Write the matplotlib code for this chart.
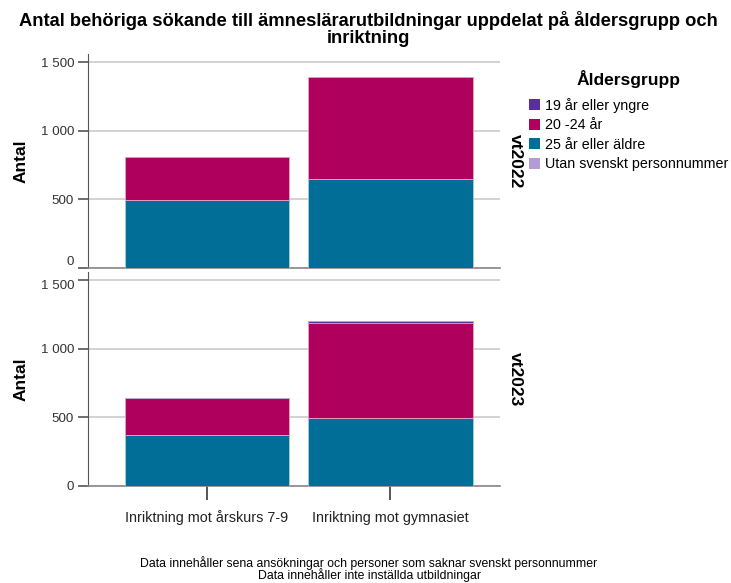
import matplotlib
matplotlib.use("Agg")
import matplotlib.pyplot as plt
from matplotlib.patches import Patch
import numpy as np

plt.rcParams['font.family'] = ['Liberation Sans', 'DejaVu Sans']

# Data
categories = ['Inriktning mot årskurs 7-9', 'Inriktning mot gymnasiet']
terms = ['vt2022', 'vt2023']
age_groups = ['19 år eller yngre', '20 -24 år', '25 år eller äldre', 'Utan svenskt personnummer']

# values per term, per age group, per category
vt2022 = {
    '19 år eller yngre': [0, 0],
    '20 -24 år': [315, 743],
    '25 år eller äldre': [495, 646],
    'Utan svenskt personnummer': [0, 0],
}
vt2023 = {
    '19 år eller yngre': [0, 11],
    '20 -24 år': [268, 690],
    '25 år eller äldre': [370, 496],
    'Utan svenskt personnummer': [0, 3],
}
term_data = [vt2022, vt2023]

yticks = [0, 500, 1000, 1500]
ytick_labels = ['0', '500', '1 000', '1 500']

colors = {
    '19 år eller yngre': '#5b2d9f',
    '20 -24 år': '#b0005e',
    '25 år eller äldre': '#006e97',
    'Utan svenskt personnummer': '#b59bd6',
}
edge_colors = {
    '19 år eller yngre': '#b9a6da',
    '20 -24 år': '#e6a6c8',
    '25 år eller äldre': '#a6cfe0',
    'Utan svenskt personnummer': '#e0d4ef',
}
# stacking order from the bottom up
stack_order = ['Utan svenskt personnummer', '25 år eller äldre', '20 -24 år', '19 år eller yngre']

W, H = 731, 583
fig = plt.figure(figsize=(W / 100, H / 100), dpi=100)


def px_axes(left, top, right, bottom):
    return fig.add_axes([left / W, 1 - bottom / H, (right - left) / W, (bottom - top) / H])


panels = [px_axes(88, 54, 500, 268), px_axes(88, 272, 500, 486)]
x = np.arange(len(categories))
axis_col = '#555555'

for i, (ax, term, data) in enumerate(zip(panels, terms, term_data)):
    bottom = np.zeros(len(categories))
    for g in stack_order:
        vals = np.array(data[g], dtype=float)
        ax.bar(x, vals, width=0.9, bottom=bottom, color=colors[g],
               edgecolor=edge_colors[g], linewidth=0.6, zorder=3)
        bottom += vals
    ax.set_xlim(-0.65, 1.6)
    ax.set_ylim(0, 1560)
    ax.set_yticks(yticks)
    ax.set_yticklabels(ytick_labels)
    ax.grid(axis='y', color='#d2d2d2', linewidth=1.4, zorder=0)
    for s in ['top', 'right']:
        ax.spines[s].set_visible(False)
    ax.spines['left'].set_color(axis_col)
    ax.spines['bottom'].set_color('#888888')
    ax.spines['bottom'].set_linewidth(1.2)
    ax.tick_params(axis='y', direction='out', length=7, width=1.2, color=axis_col,
                   labelsize=9.6, labelcolor='#333333', pad=3)
    ax.set_ylabel('Antal', fontsize=12.5, fontweight='bold', labelpad=9)
    ax.text(1.037, 0.5, term, transform=ax.transAxes, rotation=-90,
            ha='center', va='center', fontsize=12.5, fontweight='bold')
    if i == 0:
        ax.set_xticks([])
        # keep the zero label clear of the panel below
        ax.get_yticklabels()[0].set_verticalalignment('bottom')
    else:
        ax.set_xticks(x)
        ax.set_xticklabels(categories)
        ax.tick_params(axis='x', direction='out', length=10, width=1.4, color=axis_col,
                       labelsize=10.4, labelcolor='#222222', pad=16)
        for lbl in ax.get_xticklabels():
            lbl.set_verticalalignment('baseline')
        ax.get_yticklabels()[-1].set_verticalalignment('top')

fig.text(368 / W, 1 - 29 / H,
         'Antal behöriga sökande till ämneslärarutbildningar uppdelat på åldersgrupp och\ninriktning',
         ha='center', va='center', fontsize=13.2, fontweight='bold', linespacing=1.0)

handles = [Patch(facecolor=colors[g], edgecolor='none') for g in age_groups]
leg = fig.legend(handles, age_groups, title='Åldersgrupp', loc='upper left',
                 bbox_to_anchor=(529 / W, 1 - 70 / H), frameon=False, fontsize=10.3,
                 title_fontproperties={'size': 12.5, 'weight': 'bold'},
                 handlelength=0.8, handleheight=0.8, handletextpad=0.3,
                 labelspacing=0.38, borderaxespad=0, borderpad=0)
leg._legend_box.align = 'center'
leg._legend_box.sep = 7

fig.text(369 / W, 1 - 569 / H,
         'Data innehåller sena ansökningar och personer som saknar svenskt personnummer\nData innehåller inte inställda utbildningar',
         ha='center', va='center', fontsize=8.8, linespacing=0.9)

fig.savefig('out.png', dpi=100)
